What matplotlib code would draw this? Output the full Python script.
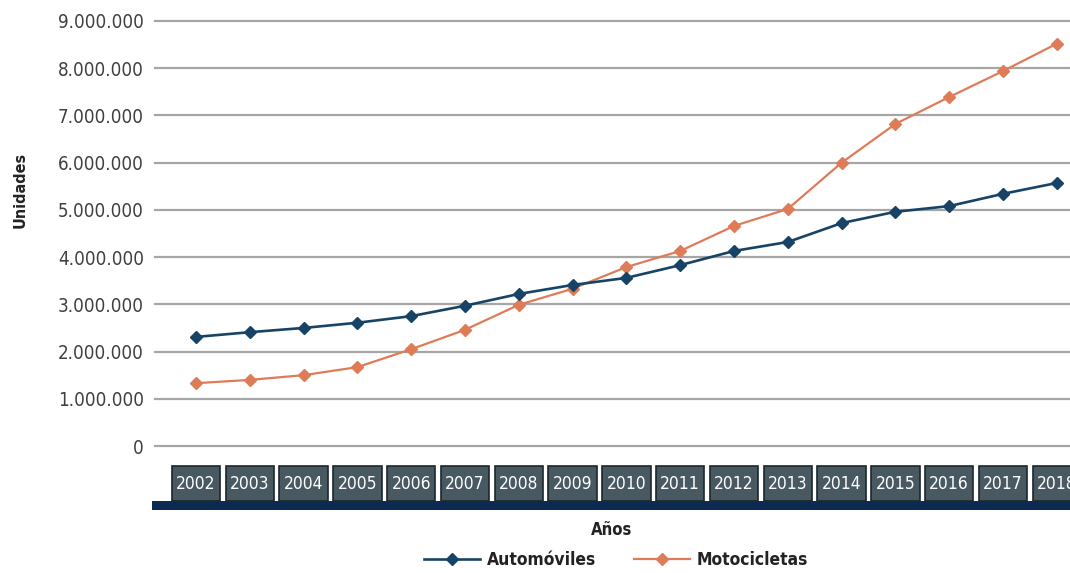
import matplotlib
matplotlib.use("Agg")
import matplotlib.pyplot as plt
from matplotlib.patches import Rectangle
from matplotlib.ticker import FuncFormatter, MultipleLocator
import matplotlib.transforms as mtransforms

years = ["2002", "2003", "2004", "2005", "2006", "2007", "2008", "2009", "2010",
         "2011", "2012", "2013", "2014", "2015", "2016", "2017", "2018"]

# unidades registradas
automoviles = [2310000, 2410000, 2500000, 2610000, 2750000, 2970000, 3220000, 3410000,
               3560000, 3830000, 4130000, 4320000, 4720000, 4960000, 5080000, 5340000,
               5570000]
motocicletas = [1330000, 1400000, 1500000, 1670000, 2050000, 2460000, 2990000, 3330000,
                3790000, 4130000, 4660000, 5020000, 6000000, 6820000, 7390000, 7940000,
                8520000]

plt.rcParams['font.family'] = ['DejaVu Sans']
plt.rcParams['font.stretch'] = 'condensed'

fig = plt.figure(figsize=(10.7, 5.73), dpi=100)
ax = fig.add_axes([155 / 1070, 1 - 446 / 573, 1 - 155 / 1070, (446 - 21) / 573])

x = list(range(len(years)))
ax.plot(x, automoviles, color="#174466", lw=1.9, marker="D", ms=6.5, label="Automóviles", zorder=4)
ax.plot(x, motocicletas, color="#de7c58", lw=1.6, marker="D", ms=6.5, label="Motocicletas", zorder=3)

ax.set_xlim(-0.762, 16.245)
ax.set_ylim(0, 9000000)
ax.yaxis.set_major_locator(MultipleLocator(1000000))
ax.yaxis.set_major_formatter(FuncFormatter(lambda v, p: "0" if v == 0 else f"{int(v):,}".replace(",", ".")))
ax.grid(axis="y", color="#a6a6a6", lw=1.6)
for g in ax.get_ygridlines():
    g.set_clip_on(False)
ax.set_axisbelow(True)
for s in ax.spines.values():
    s.set_visible(False)
ax.tick_params(axis="y", length=0, pad=8, labelsize=13.5, labelcolor="#404040")
ax.set_xticks([])

# cajas de los años
trans = mtransforms.blended_transform_factory(ax.transData, fig.transFigure)
for i, yr in enumerate(years):
    ax.add_patch(Rectangle((i - 0.45, 1 - 501 / 573), 0.9, 35 / 573, transform=trans,
                           facecolor="#485962", edgecolor="#1c262c", lw=1.2, clip_on=False))
    ax.text(i, 1 - 484 / 573, yr, transform=trans, ha="center", va="center",
            color="white", fontsize=12.5, clip_on=False)

# franja inferior
fig.patches.append(Rectangle((152 / 1070, 1 - 510 / 573), 1, 9 / 573, transform=fig.transFigure,
                             facecolor="#0b2c50", edgecolor="none"))

fig.text(20 / 1070, 1 - 190 / 573, "Unidades", rotation=90, ha="center", va="center",
         fontsize=11.5, fontweight="bold", color="#222222")
fig.text(612 / 1070, 1 - 530 / 573, "Años", ha="center", va="center",
         fontsize=12, fontweight="bold", color="#222222")

leg = fig.legend(loc="center", bbox_to_anchor=(616 / 1070, 1 - 560 / 573), ncol=2,
                 frameon=False, handlelength=3.2, columnspacing=2.2, handletextpad=0.4,
                 prop={"weight": "bold", "size": 12.5})
for t in leg.get_texts():
    t.set_color("#222222")

fig.savefig("out.png", dpi=100)
